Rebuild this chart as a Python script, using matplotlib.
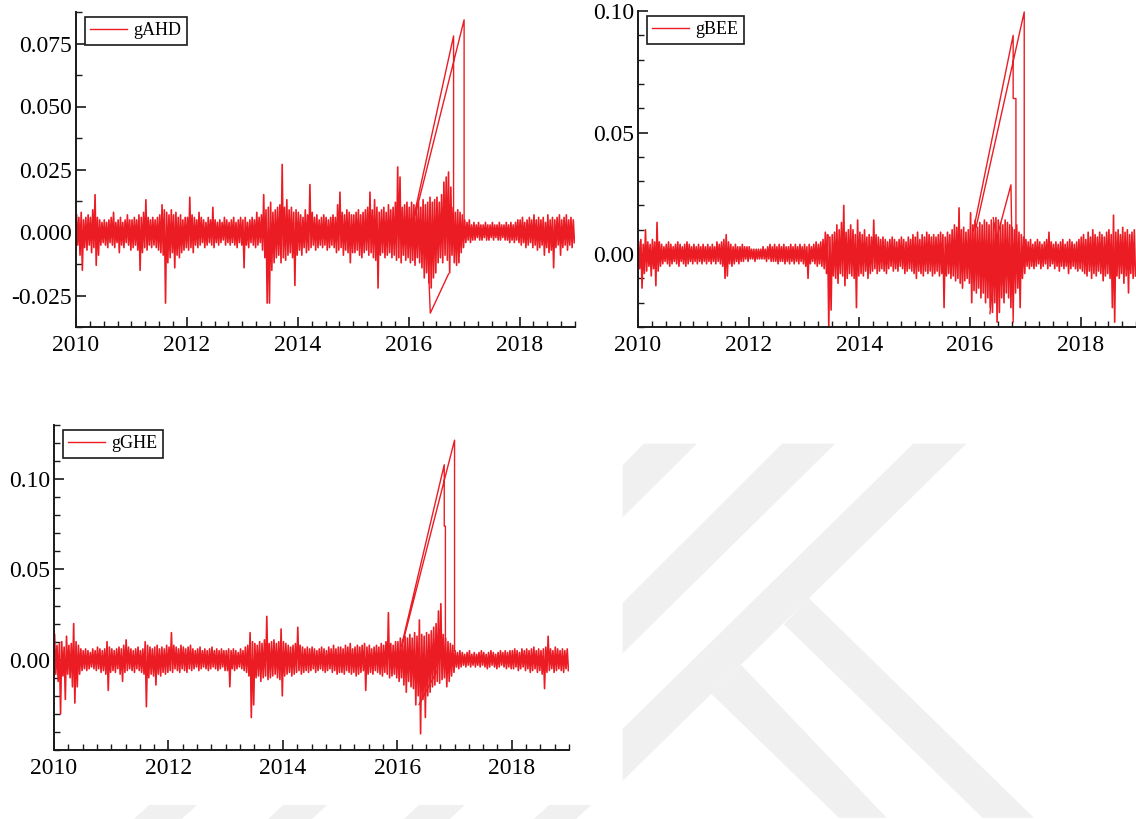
import numpy as np
import matplotlib
matplotlib.use("Agg")
import matplotlib.pyplot as plt
from matplotlib.patches import Polygon
from matplotlib.ticker import MultipleLocator, FixedLocator, FormatStrFormatter

plt.rcParams['font.family'] = ['Liberation Serif', 'DejaVu Serif']
plt.rcParams['axes.unicode_minus'] = False

RED = '#ec1c24'

# half-month envelope of each series (upper / lower swing), in units of 1e-3
# one row per year 2010 ... 2018, 24 bins per row
ahd_up = [
    [7,6,8,5,6,7,6,9,15,6,5,4,5,4,5,6,8,4,5,6,4,5,7,5],
    [5,6,5,7,6,8,13,6,5,6,5,6,7,11,9,8,7,9,7,8,6,7,5,6],
    [6,14,7,6,5,8,6,5,4,6,5,10,5,4,5,4,6,5,4,5,6,4,5,6],
    [5,6,4,5,6,5,8,6,7,15,9,10,12,8,9,10,11,27,10,13,9,10,8,9],
    [8,7,6,9,7,19,8,6,7,5,6,7,6,5,6,7,6,11,16,8,7,9,8,7],
    [7,8,9,7,8,9,10,16,9,13,10,8,9,10,8,11,9,10,12,26,22,10,11,12],
    [10,12,11,9,12,10,13,11,12,14,12,13,14,12,15,20,22,24,18,10,8,9,8,7],
    [5,4,5,3,4,3,4,3,3,4,3,3,4,3,3,4,3,3,4,3,4,3,4,5],
    [5,6,4,5,6,5,7,5,6,5,6,4,7,5,6,5,6,7,5,6,7,5,6,5],
]
ahd_down = [
    [-5,-9,-15,-6,-7,-5,-8,-6,-13,-9,-5,-4,-5,-6,-4,-5,-6,-4,-8,-5,-6,-4,-5,-7],
    [-6,-5,-7,-15,-8,-6,-7,-5,-6,-5,-6,-7,-8,-9,-28,-12,-10,-8,-14,-9,-10,-8,-7,-6],
    [-7,-6,-8,-5,-6,-5,-4,-6,-5,-4,-5,-6,-4,-5,-4,-3,-5,-4,-5,-4,-5,-6,-4,-5],
    [-14,-5,-6,-4,-5,-6,-5,-4,-7,-10,-28,-28,-15,-12,-10,-9,-12,-10,-11,-9,-8,-10,-21,-9],
    [-7,-9,-6,-8,-7,-6,-5,-7,-6,-5,-6,-5,-7,-6,-5,-6,-8,-7,-6,-9,-7,-8,-12,-8],
    [-8,-7,-9,-10,-8,-7,-9,-8,-10,-11,-22,-9,-8,-10,-9,-8,-10,-9,-11,-10,-12,-9,-11,-10],
    [-12,-11,-13,-10,-12,-14,-18,-16,-20,-22,-18,-16,-12,-10,-12,-9,-11,-16,-9,-12,-13,-12,-8,-6],
    [-4,-3,-4,-3,-3,-2,-3,-3,-2,-3,-3,-2,-3,-2,-3,-3,-2,-3,-3,-4,-3,-4,-3,-4],
    [-5,-4,-6,-5,-4,-6,-5,-7,-6,-5,-9,-6,-8,-7,-14,-6,-5,-9,-6,-5,-7,-5,-6,-4],
]

bee_up = [
    [5,6,4,10,5,4,6,5,13,5,4,3,4,5,4,3,4,5,4,3,4,5,4,3],
    [4,3,4,3,4,3,4,3,4,3,5,4,5,6,8,5,4,3,4,3,3,4,3,3],
    [3,2,2,2,2,2,3,2,3,4,3,4,3,4,3,4,3,3,4,3,4,3,4,3],
    [4,3,4,3,4,5,4,5,6,9,8,7,8,9,12,10,13,20,9,10,12,10,8,14],
    [9,8,10,7,8,7,14,8,7,6,7,6,5,6,7,6,5,6,7,6,5,7,6,8],
    [7,9,6,8,7,9,8,7,8,7,8,9,8,7,9,8,10,12,11,19,10,11,9,10],
    [17,12,14,11,13,12,14,13,12,14,13,15,14,13,12,14,13,12,11,10,12,9,8,7],
    [6,5,6,4,5,6,5,4,5,6,9,5,4,5,4,5,6,4,5,6,5,4,5,6],
    [7,8,6,9,7,10,8,7,9,8,7,9,10,8,16,9,10,8,11,9,10,8,9,10],
]
bee_down = [
    [-6,-14,-8,-7,-5,-9,-6,-13,-7,-5,-4,-3,-4,-5,-4,-3,-4,-5,-3,-4,-5,-4,-3,-4],
    [-3,-4,-3,-4,-3,-4,-3,-4,-3,-4,-3,-4,-5,-10,-9,-4,-5,-4,-3,-4,-3,-3,-2,-3],
    [-2,-2,-3,-2,-2,-2,-2,-3,-2,-3,-3,-3,-4,-3,-3,-4,-3,-4,-3,-4,-3,-4,-3,-4],
    [-5,-10,-4,-3,-4,-5,-4,-5,-6,-8,-30,-23,-9,-10,-12,-8,-9,-13,-10,-8,-9,-10,-22,-9],
    [-8,-9,-7,-10,-8,-7,-6,-8,-7,-6,-7,-8,-6,-5,-7,-6,-7,-5,-6,-8,-7,-6,-7,-8],
    [-10,-7,-8,-9,-7,-8,-7,-9,-8,-7,-9,-8,-22,-9,-8,-10,-9,-11,-10,-12,-14,-11,-10,-12],
    [-20,-15,-16,-14,-18,-16,-20,-18,-22,-24,-20,-28,-24,-18,-20,-16,-18,-22,-15,-16,-14,-22,-10,-8],
    [-5,-6,-5,-6,-5,-4,-6,-5,-4,-6,-5,-4,-6,-5,-7,-5,-6,-5,-8,-6,-5,-6,-7,-6],
    [-7,-8,-9,-7,-10,-8,-9,-7,-8,-11,-9,-8,-10,-22,-28,-9,-10,-8,-12,-9,-16,-8,-10,-9],
]

ghe_up = [
    [14,8,9,10,7,13,8,9,20,10,8,6,5,6,5,4,6,5,7,6,5,6,10,7],
    [6,5,6,7,6,8,11,7,6,5,6,7,5,6,10,8,7,6,7,8,6,7,6,8],
    [7,15,8,7,6,8,7,6,7,8,6,5,6,7,5,6,5,6,7,5,6,5,6,5],
    [5,6,5,6,5,4,6,5,7,8,15,10,9,8,10,9,11,24,9,10,11,9,10,17],
    [10,9,8,7,8,9,18,8,7,6,7,6,7,6,5,6,7,6,5,7,6,8,6,7],
    [7,6,8,7,9,6,7,8,7,8,9,7,8,6,7,8,7,9,8,10,26,9,8,10],
    [10,12,11,13,12,14,12,15,13,22,14,13,15,14,16,18,20,27,31,14,12,10,9,8],
    [5,4,5,4,3,4,5,3,4,3,4,5,4,3,4,5,4,3,4,5,4,5,4,5],
    [5,6,5,4,6,5,6,5,6,7,5,6,5,6,7,13,6,5,7,6,5,6,5,6],
]
ghe_down = [
    [-8,-12,-30,-9,-22,-8,-10,-15,-24,-15,-8,-6,-5,-6,-5,-4,-5,-6,-5,-7,-6,-8,-17,-7],
    [-6,-7,-5,-8,-12,-7,-6,-5,-6,-7,-5,-6,-7,-8,-26,-10,-8,-9,-14,-8,-9,-7,-8,-7],
    [-6,-7,-5,-6,-7,-5,-6,-7,-5,-6,-5,-4,-6,-5,-4,-5,-6,-5,-4,-5,-6,-5,-4,-6],
    [-6,-15,-5,-6,-5,-4,-5,-6,-7,-9,-32,-25,-10,-9,-12,-10,-9,-11,-10,-9,-8,-10,-11,-20],
    [-9,-8,-7,-9,-8,-7,-6,-8,-7,-6,-7,-6,-5,-7,-6,-5,-6,-7,-6,-5,-7,-6,-8,-7],
    [-7,-8,-6,-7,-8,-7,-9,-8,-7,-6,-17,-8,-7,-8,-6,-7,-8,-9,-7,-8,-10,-9,-8,-10],
    [-12,-10,-14,-18,-12,-15,-16,-25,-20,-41,-22,-32,-20,-18,-15,-14,-12,-13,-11,-10,-15,-12,-9,-7],
    [-4,-5,-4,-3,-4,-3,-4,-3,-4,-3,-4,-3,-4,-5,-4,-3,-4,-5,-4,-3,-4,-5,-4,-5],
    [-5,-4,-6,-5,-4,-6,-5,-7,-6,-5,-7,-6,-8,-16,-7,-6,-5,-7,-6,-5,-6,-7,-5,-6],
]

# out-of-order stretches in 2016 (date, value), NaN breaks the line
ahd_jump_t = [2016.08, 2016.81, 2016.81, np.nan, 2016.12, 2017.0, 2017.0, np.nan, 2016.35, 2016.39, 2016.72]
ahd_jump_v = [0.005, 0.078, 0.0, np.nan, 0.007, 0.0844, 0.0, np.nan, -0.010, -0.032, -0.0164]

bee_jump_t = [2016.06, 2016.78, 2016.78, 2016.83, 2016.83, np.nan, 2016.11, 2016.98, 2016.98, np.nan,
              2016.36, 2016.50, 2016.74, 2016.78, 2016.80, np.nan, 2016.42, 2016.62]
bee_jump_v = [0.0096, 0.090, 0.064, 0.064, 0.002, np.nan, 0.011, 0.0996, 0.0, np.nan,
              -0.0245, 0.008, 0.0285, -0.028, 0.0, np.nan, 0.015, -0.015]

ghe_jump_t = [2016.07, 2016.82, 2016.82, 2016.84, 2016.84, np.nan, 2016.10, 2017.0, 2017.0, np.nan, 2016.38, 2016.69]
ghe_jump_v = [0.0073, 0.108, 0.074, 0.074, 0.0, np.nan, 0.010, 0.1216, 0.005, np.nan, -0.0248, -0.0064]


def zigzag(up, down):
    hi = np.concatenate([np.array(r, float) for r in up]) * 1e-3
    lo = np.concatenate([np.array(r, float) for r in down]) * 1e-3
    n = len(hi)
    t = np.empty(2 * n)
    v = np.empty(2 * n)
    t[0::2] = 2010 + (np.arange(n) + 0.25) / 24
    t[1::2] = 2010 + (np.arange(n) + 0.75) / 24
    v[0::2] = hi
    v[1::2] = lo
    return t, v


fig = plt.figure(figsize=(11.36, 8.19), dpi=100)
W, H = 1136.0, 819.0


def px_axes(l, t, r, b):
    return fig.add_axes([l / W, 1 - b / H, (r - l) / W, (b - t) / H])


# faint watermark behind the charts (figure pixel coords, y from top)
marks = [
    [(643.8, 443.6), (697.0, 443.6), (622.6, 517.4), (622.6, 465.4)],
    [(782.1, 443.6), (835.3, 443.6), (622.6, 653.4), (622.6, 603.0)],
    [(913.3, 443.6), (966.5, 443.6), (622.6, 780.9), (622.6, 728.9)],
    [(783.9, 624.2), (808.7, 598.0), (1033.9, 817.8), (982.5, 817.8)],
    [(711.2, 693.6), (741.3, 665.1), (886.7, 817.8), (838.9, 817.8)],
    [(149.3, 805.0), (197.1, 805.0), (181.8, 819.0), (134.0, 819.0)],
    [(283.2, 805.0), (327.2, 805.0), (311.9, 819.0), (268.0, 819.0)],
    [(419.0, 805.0), (465.0, 805.0), (449.7, 819.0), (403.8, 819.0)],
    [(549.2, 805.0), (591.3, 805.0), (576.0, 819.0), (533.9, 819.0)],
]
for m in marks:
    pts = [(x / W, 1 - y / H) for x, y in m]
    fig.add_artist(Polygon(pts, closed=True, transform=fig.transFigure,
                           facecolor='#f0f0f0', edgecolor='none', zorder=0))

panels = [
    dict(box=(76, 12, 575, 327), up=ahd_up, down=ahd_down, jt=ahd_jump_t, jv=ahd_jump_v,
         name='gAHD', ylim=(-0.0375, 0.0875), major=[-0.025, 0.0, 0.025, 0.05, 0.075],
         minor=0.0125, fmt='%.3f'),
    dict(box=(638, 11, 1136, 327), up=bee_up, down=bee_down, jt=bee_jump_t, jv=bee_jump_v,
         name='gBEE', ylim=(-0.03, 0.10), major=[0.0, 0.05, 0.10], minor=0.01, fmt='%.2f'),
    dict(box=(54, 425, 569, 750), up=ghe_up, down=ghe_down, jt=ghe_jump_t, jv=ghe_jump_v,
         name='gGHE', ylim=(-0.05, 0.13), major=[0.0, 0.05, 0.10], minor=0.01, fmt='%.2f'),
]

for p in panels:
    l, t, r, b = p['box']
    ax = px_axes(l, t, r, b)
    ax.patch.set_alpha(0)
    tt, vv = zigzag(p['up'], p['down'])
    ax.plot(tt, vv, color=RED, lw=1.2, label=p['name'])
    ax.plot(p['jt'], p['jv'], color=RED, lw=1.0)

    ax.set_xlim(2010, 2019)
    ax.set_ylim(*p['ylim'])
    ax.xaxis.set_major_locator(FixedLocator([2010, 2012, 2014, 2016, 2018]))
    ax.xaxis.set_minor_locator(MultipleLocator(0.25))
    ax.yaxis.set_major_locator(FixedLocator(p['major']))
    ax.yaxis.set_minor_locator(MultipleLocator(p['minor']))
    ax.yaxis.set_major_formatter(FormatStrFormatter(p['fmt']))

    for s in ['top', 'right']:
        ax.spines[s].set_visible(False)
    for s in ['left', 'bottom']:
        ax.spines[s].set_linewidth(1.4)
        ax.spines[s].set_color('#1a1a1a')
    ax.tick_params(which='both', direction='in', color='#1a1a1a', labelsize=17)
    ax.tick_params(which='major', length=7, width=1.2)
    ax.tick_params(which='minor', length=4, width=1.0)
    ax.tick_params(axis='x', pad=6)
    ax.tick_params(axis='y', pad=3)

    bw, bh = r - l, b - t
    leg = ax.legend(loc='upper left', bbox_to_anchor=(9 / bw, 1 - 5 / bh),
                    borderaxespad=0, fontsize=13, handlelength=2.0, handletextpad=0.4,
                    borderpad=0.3, fancybox=False, framealpha=1, edgecolor='#1a1a1a')
    leg.get_frame().set_linewidth(1.2)
    for h in leg.get_lines():
        h.set_linewidth(1.0)

fig.savefig('out.png', dpi=100)
